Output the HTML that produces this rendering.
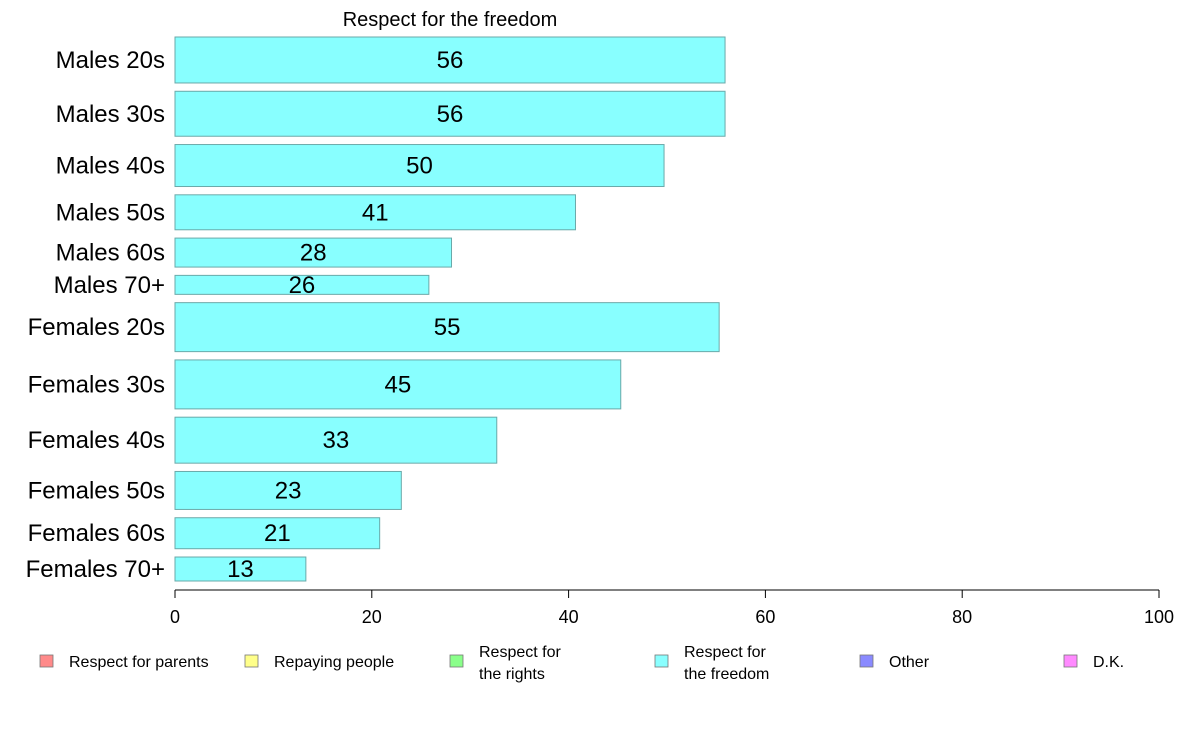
<!DOCTYPE html>
<html><head><meta charset="utf-8"><style>
body{margin:0;background:#fff;font-family:"Liberation Sans",Arial,sans-serif}
svg text{font-family:"Liberation Sans",Arial,sans-serif}
</style></head><body>
<svg id="chart" width="1188" height="736" viewBox="0 0 1188 736" xmlns="http://www.w3.org/2000/svg">
<text x="450" y="26" font-size="20" text-anchor="middle">Respect for the freedom</text>
<g id="bars"></g>
<g id="axis"></g>
<g id="legend"></g>
</svg>
<script>
const categories=["Males 20s","Males 30s","Males 40s","Males 50s","Males 60s","Males 70+","Females 20s","Females 30s","Females 40s","Females 50s","Females 60s","Females 70+"];
const values=[55.9,55.9,49.7,40.7,28.1,25.8,55.3,45.3,32.7,23.0,20.8,13.3];
const printed=["56","56","50","41","28","26","55","45","33","23","21","13"];
const weights=[46,45,42,35,29,19,49,49,46,38,31,24];
const ticks=[0,20,40,60,80,100];
const legendLabels=[["Respect for parents"],["Repaying people"],["Respect for","the rights"],["Respect for","the freedom"],["Other"],["D.K."]];
const legendColors=["#ff8a8a","#ffff8a","#8aff8a","#8affff","#8a8aff","#ff8aff"];
const NS="http://www.w3.org/2000/svg";
const x0=175,x1=1159,yTop=37,yBot=581;
const xs=v=>x0+(x1-x0)*v/100;
function mk(tag,attrs,parent){const e=document.createElementNS(NS,tag);for(const k in attrs)e.setAttribute(k,attrs[k]);parent.appendChild(e);return e;}
const bars=document.getElementById('bars');
const totalW=weights.reduce((a,b)=>a+b,0);
const gap=8.3;
const scaleH=(yBot-yTop-gap*(weights.length-1))/totalW;
let y=yTop;
categories.forEach((c,i)=>{
  const h=weights[i]*scaleH;
  const r=mk('rect',{x:x0,y:y,width:xs(values[i])-x0,height:h,fill:'#88ffff',stroke:'#6aa9a9','stroke-width':1},bars);
  
  
  const t=mk('text',{x:(x0+xs(values[i]))/2,y:y+h/2+8,'font-size':24,'text-anchor':'middle'},bars);
  t.textContent=printed[i];
  
  
  const l=mk('text',{x:165,y:y+h/2+8,'font-size':24,'text-anchor':'end'},bars);
  l.textContent=c;
  
  
  y+=h+gap;
});
const ax=document.getElementById('axis');
const al=mk('line',{x1:x0,x2:x1,y1:590,y2:590,stroke:'#000'},ax);


ticks.forEach(t=>{
  const tl=mk('line',{x1:xs(t),x2:xs(t),y1:590,y2:598,stroke:'#000'},ax);
  
  
  const tt=mk('text',{x:xs(t),y:623,'font-size':18,'text-anchor':'middle'},ax);
  tt.textContent=t;
  
  
});
const lg=document.getElementById('legend');
const lx=[40,245,450,655,860,1064];
legendLabels.forEach((lab,i)=>{
  const g=mk('g',{},lg);
  
  
  mk('rect',{x:lx[i],y:655,width:13,height:12,fill:legendColors[i],stroke:'#777','stroke-width':0.8},g);
  lab.forEach((s,j)=>{
    const t=mk('text',{x:lx[i]+29,y:(lab.length===1?667:657+j*22),'font-size':16},g);
    t.textContent=s;
  });
});
</script>
</body></html>
